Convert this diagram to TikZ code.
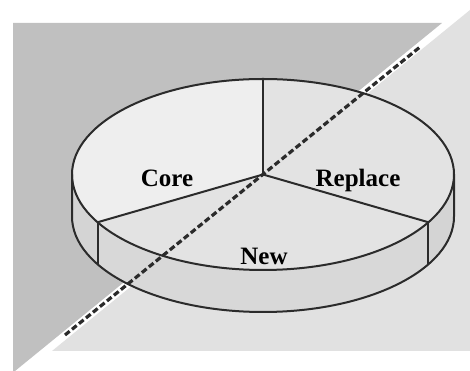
\documentclass[tikz,border=0pt]{standalone}
\usepackage{fontspec}
\setmainfont{Liberation Serif}
\definecolor{bgdark}{HTML}{C0C0C0}
\definecolor{bglight}{HTML}{E1E1E1}
\definecolor{coretop}{HTML}{EEEEEE}
\definecolor{slicetop}{HTML}{E3E3E3}
\definecolor{frontside}{HTML}{D8D8D8}
\definecolor{endside}{HTML}{D4D4D4}
\definecolor{lineclr}{HTML}{2B2B2B}
\begin{document}
\begin{tikzpicture}[x=1pt,y=1pt,
  pieline/.style={draw=lineclr,line width=2pt,line join=round,line cap=round},
  slicetext/.style={font=\fontsize{25}{30}\selectfont\bfseries,text=black,inner sep=0pt,anchor=base},
  cutline/.style={draw=lineclr,line width=3.2pt,dash pattern=on 6pt off 3pt},
  rad/.style={x radius=191,y radius=95.5}]
\useasboundingbox (0,0) rectangle (470,371);
\fill[white] (0,0) rectangle (470,371);

% two background panels separated by a white diagonal band
\fill[bgdark] (13,0) -- (13,348) -- (442,348) -- (15,0) -- cycle;
\fill[bglight] (52,20) -- (470,20) -- (470,361) -- cycle;

% key points of the disc (top face centre, slice boundaries)
\coordinate (ctr) at (263,196.5);
\coordinate (bTop) at (263,292);
\coordinate (bLeft) at (97.59,148.75);
\coordinate (bRight) at (428.41,148.75);
\coordinate (eLeft) at (72,196.5);
\coordinate (eRight) at (454,196.5);

% side walls
\fill[endside] (eLeft) arc[start angle=180,end angle=210,rad] -- ++(0,-42)
  arc[start angle=210,end angle=180,rad] -- cycle;
\fill[frontside] (bLeft) arc[start angle=210,end angle=330,rad] -- ++(0,-42)
  arc[start angle=330,end angle=210,rad] -- cycle;
\fill[endside] (bRight) arc[start angle=330,end angle=360,rad] -- ++(0,-42)
  arc[start angle=360,end angle=330,rad] -- cycle;

% top faces of the three slices
\fill[coretop] (ctr) -- (bTop) arc[start angle=90,end angle=210,rad] -- cycle;
\fill[slicetop] (ctr) -- (bLeft) arc[start angle=210,end angle=330,rad] -- cycle;
\fill[slicetop] (ctr) -- (bRight) arc[start angle=330,end angle=450,rad] -- cycle;

% outlines
\draw[pieline] (ctr) ellipse[rad];
\draw[pieline] (eLeft) -- ++(0,-42) arc[start angle=180,end angle=360,rad] -- (eRight);
\draw[pieline] (bLeft) -- ++(0,-42);
\draw[pieline] (bRight) -- ++(0,-42);
\draw[pieline] (ctr) -- (bTop);
\draw[pieline] (ctr) -- (bLeft);
\draw[pieline] (ctr) -- (bRight);

% slice names
\node[slicetext] (core) at (167,184) {Core};
\node[slicetext] (replace) at (358,184) {Replace};
\node[slicetext] (new) at (264,106) {New};

% dashed cut along the diagonal band
\coordinate (cutA) at (65,36);
\coordinate (cutB) at (420,324);
\draw[cutline] (cutA) -- (cutB);
\end{tikzpicture}
\end{document}
